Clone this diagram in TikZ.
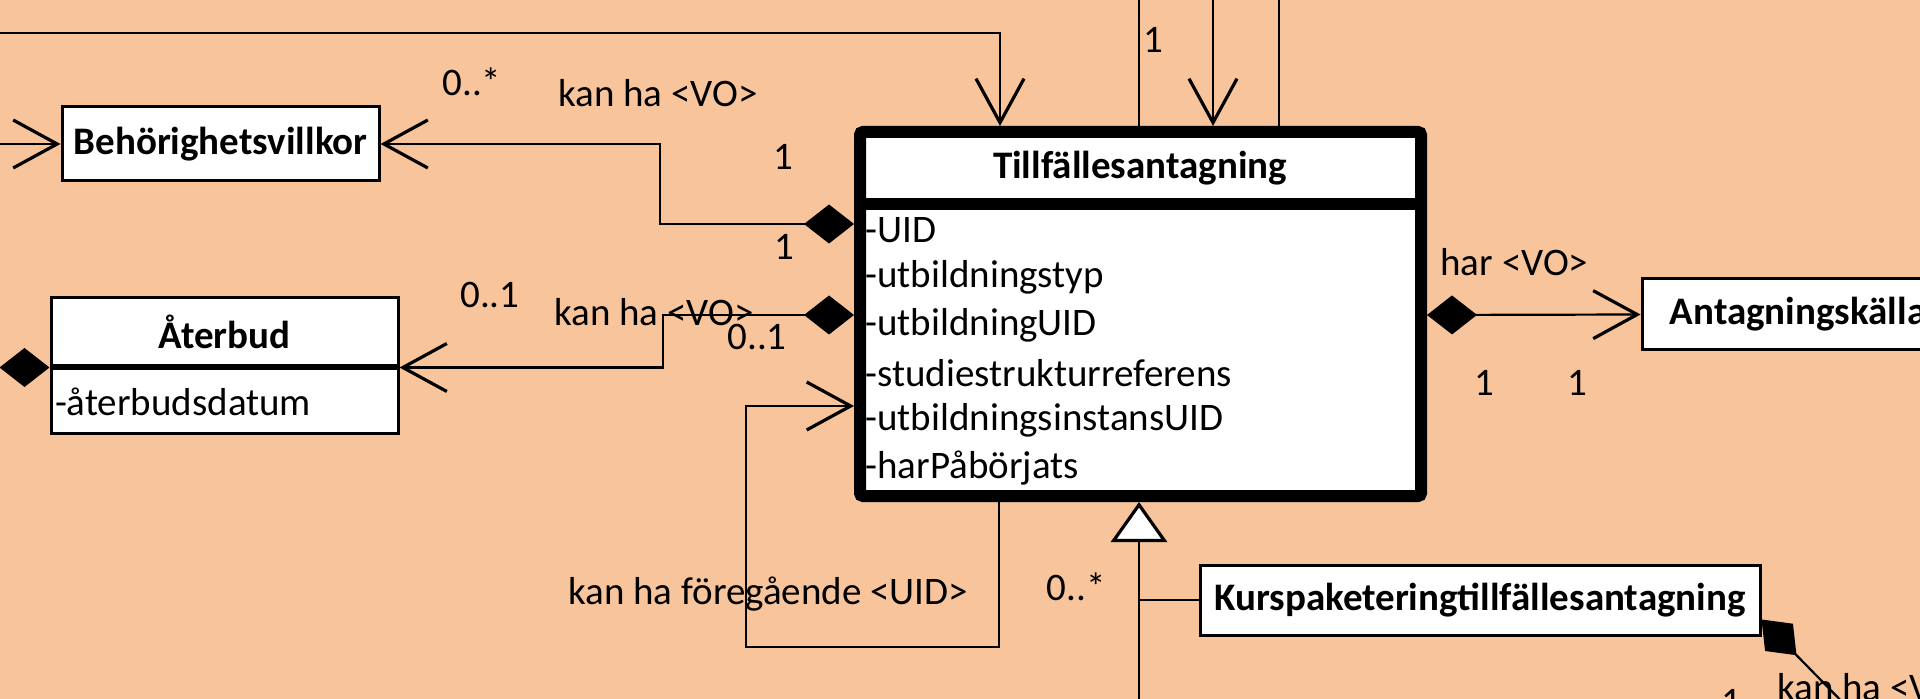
\documentclass[tikz,border=0pt]{standalone}
\usepackage{fontspec}
\setmainfont{Carlito}
\usepackage{tikz}
\usetikzlibrary{arrows.meta,positioning,calc}
\definecolor{peach}{RGB}{248,196,155}

\begin{document}
\begin{tikzpicture}[x=0.5pt,y=-0.5pt,
        font=\fontsize{19.5}{23.5}\selectfont,
        every node/.style={inner sep=0pt},
        klass/.style={draw,fill=white,line width=1.5pt,font=\fontsize{19.5}{23.5}\selectfont\bfseries},
        conn/.style={line width=1.1pt},
        nav/.style={-{Straight Barb[length=22pt,width=24pt,line width=1.6pt]}},
        comp/.style={{Diamond[length=25pt,width=19.5pt]}-},
        compnav/.style={{Diamond[length=25pt,width=19.5pt]}-{Straight Barb[length=22pt,width=24pt,line width=1.6pt]}},
        gen/.style={-{Triangle[open,fill=white,length=20pt,width=28pt,line width=1.6pt]}}]
    \useasboundingbox (0,0) rectangle (1920,699);
    \clip (0,0) rectangle (1920,699);
    \fill[peach] (0,0) rectangle (1920,699);

    % classes
    \node[draw,fill=white,line width=6pt,rounded corners=1.5pt,minimum width=280.5pt,minimum height=182pt] (till) at (1140.5,314) {};
    \draw[line width=6pt] (till.west |- 0,204) -- (till.east |- 0,204);
    \node[font=\fontsize{19.5}{23.5}\selectfont\bfseries] (tilltitle) at (1140,168) {Tillfällesantagning};
    \foreach \a [count=\i from 0] in {UID,utbildningstyp,utbildningUID,studiestrukturreferens,utbildningsinstansUID,harPåbörjats}
        \node[anchor=west] (attr\i) at (865,{230+47.6*\i}) {-\a};

    \node[klass,minimum width=158.5pt,minimum height=37pt] (behor) at (220.5,144) {Behörighetsvillkor};
    \node[klass,minimum width=173.5pt,minimum height=34pt] (aterbud) at (224.5,332) {Återbud};
    \node[klass,font=\fontsize{19.5}{23.5}\selectfont,anchor=north,minimum height=32.5pt,text width=169.5pt,inner xsep=2pt,align=left] (aterbudattr) at (aterbud.south) {-återbudsdatum};
    \node[klass,minimum width=280pt,minimum height=35pt] (kurs) at (1480,600) {Kurspaketeringtillfällesantagning};
    \node[klass,minimum width=156pt,minimum height=35.5pt] (kalla) at (1798,314.5) {Antagningskälla};

    \coordinate (topL) at (0,33);
    \coordinate (leftB) at (0,144);
    \coordinate (topA) at (1139,0);
    \coordinate (topB) at (1213,0);
    \coordinate (topC) at (1279,0);
    \coordinate (genEnd) at (1139,720);
    \coordinate (kursEnd) at (1858,718);

    % connectors
    \draw[conn,nav] (topL) -| (till.north -| 1000,0);
    \draw[conn] (topA) -- (till.north -| topA);
    \draw[conn,nav] (topB) -- (till.north -| topB);
    \draw[conn] (topC) -- (till.north -| topC);
    \draw[conn,nav] (leftB) -- (behor.west);
    \draw[conn,compnav] (till.west |- 0,224) -- ++(-194,0) |- (behor.east);
    \draw[conn,compnav] (till.west |- 0,315) -- ++(-191,0) |- (aterbud.south east);
    \draw[conn,nav] (till.south -| 999,0) -- ++(0,145) -| ++(-253,-241) -- (till.west |- 0,406);
    \draw[conn,gen] (genEnd) -- (till.south -| genEnd);
    \draw[conn] (kurs.west) -- (kurs.west -| genEnd);
    \draw[conn,compnav] (till.east |- 0,315) -- (kalla.west);
    \draw[conn,comp] ($(kurs.south east)+(0,-17)$) -- (kursEnd);
    \fill (aterbud.south west) -- ++(-25,-19.5) -- ++(-25,19.5) -- ++(25,19.5) -- cycle;

    % labels
    \node (mBa) at (472,82) {0..*};
    \node[anchor=west] (rBa) at (558,93) {kan ha <VO>};
    \node (mBb) at (783,157) {1};
    \node (mBc) at (784,247) {1};
    \node (mAa) at (490,295) {0..1};
    \node[anchor=west] (rA) at (554,312) {kan ha <VO>};
    \node (mAb) at (757,337) {0..1};
    \node[anchor=west] (rF) at (568,594) {kan ha föregående <UID>};
    \node (mT) at (1153,40) {1};
    \node (mG) at (1076,587) {0..*};
    \node[anchor=west] (rK) at (1440,262) {har <VO>};
    \node (mKa) at (1484,383) {1};
    \node (mKb) at (1577,383) {1};
    \node[anchor=west] (rP) at (1777,687) {kan ha <VO>};
    \node (mP) at (1731,702) {1};
\end{tikzpicture}
\end{document}
